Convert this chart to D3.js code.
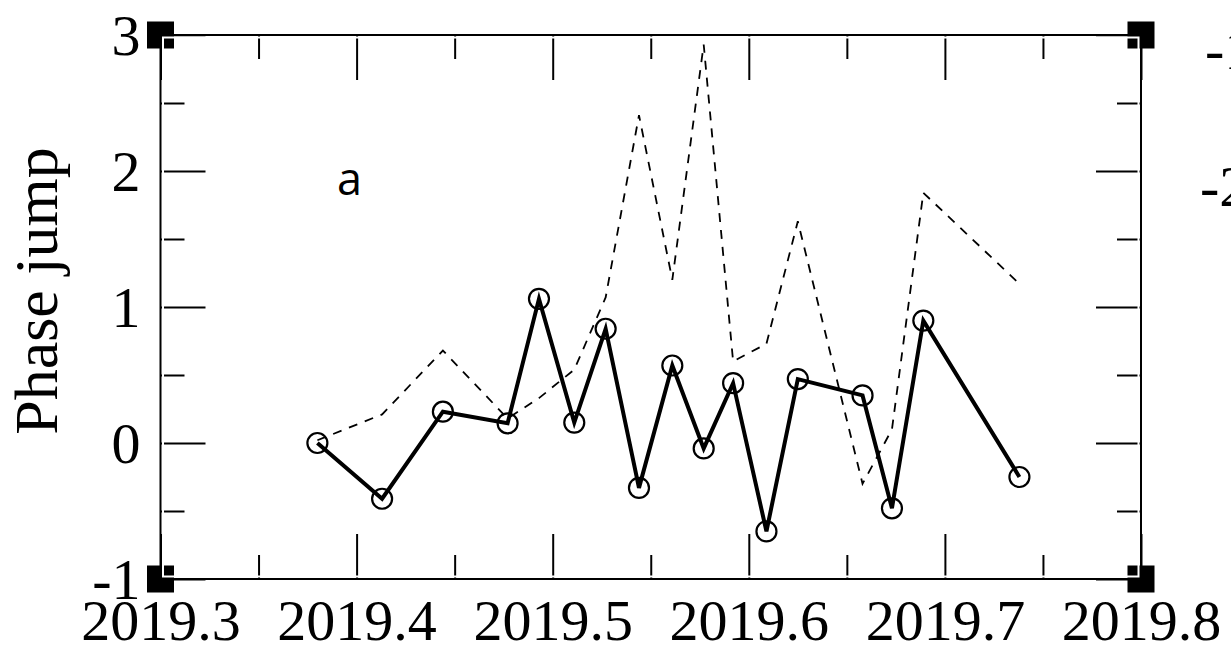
<!DOCTYPE html>
<html>
<head>
<meta charset="utf-8">
<script src="https://cdn.jsdelivr.net/npm/d3@7"></script>
<style>
  body { margin: 0; background: #fff; }
  svg { display: block; }
</style>
</head>
<body>
<div id="chart"></div>
<script>
// epochs (decimal year)
const years = [2019.380, 2019.413, 2019.444, 2019.477, 2019.493, 2019.511, 2019.527, 2019.544,
  2019.561, 2019.577, 2019.592, 2019.609, 2019.625, 2019.658, 2019.673, 2019.689, 2019.738]

// phase jump (solid, circles)
const phaseJump = [0.00, -0.41, 0.23, 0.145, 1.06, 0.15, 0.84, -0.33,
  0.57, -0.04, 0.44, -0.65, 0.47, 0.35, -0.48, 0.90, -0.25]

// second series (dashed)
const dashedSeries = [0.02, 0.21, 0.68, 0.18, 0.33, 0.54, 1.07, 2.41,
  1.20, 2.93, 0.60, 0.73, 1.63, -0.30, 0.10, 1.84, 1.17]

const xMajor = [2019.3, 2019.4, 2019.5, 2019.6, 2019.7, 2019.8]
const xMinor = [2019.35, 2019.45, 2019.55, 2019.65, 2019.75]
const yMajor = [-1, 0, 1, 2, 3]
const yMinor = [-0.5, 0.5, 1.5, 2.5]

const W = 1231, H = 648
const margin = {top:35, left:160.5}
const width = 980.5
const height = 544

const root = d3.select("#chart")
  .append("svg")
  .attr("width", W)
  .attr("height", H)

const svg = root.append("g")
  .attr("transform", `translate(${margin.left},${margin.top})`)

const x = d3.scaleLinear().domain([2019.3, 2019.8]).range([0, width])
const y = d3.scaleLinear().domain([-1, 3]).range([height, 0])

const serif = "'Liberation Serif', 'Times New Roman', serif"

// plain hyphen for negatives, like the original
const intFmt = d => String(d)

// axes, ticks pointing inward
function styleAxis(g){
  g.select(".domain").remove()
  g.selectAll(".tick line").attr("stroke", "#000").attr("stroke-width", 2)
}

svg.append("g")
  .attr("transform", `translate(0,${height})`)
  .call(d3.axisBottom(x).tickValues(xMajor).tickSize(-45).tickSizeOuter(0).tickFormat(d3.format(".1f")))
  .call(styleAxis)
  .call(g => g.selectAll(".tick text")
    .attr("y", 61).attr("dy", 0)
    .style("font-family", serif).style("font-size", "58px").attr("fill", "#000"))

svg.append("g")
  .attr("transform", `translate(0,${height})`)
  .call(d3.axisBottom(x).tickValues(xMinor).tickSize(-24).tickFormat(""))
  .call(styleAxis)

svg.append("g")
  .call(d3.axisTop(x).tickValues(xMajor).tickSize(-45).tickFormat(""))
  .call(styleAxis)

svg.append("g")
  .call(d3.axisTop(x).tickValues(xMinor).tickSize(-24).tickFormat(""))
  .call(styleAxis)

svg.append("g")
  .call(d3.axisLeft(y).tickValues(yMajor).tickSize(-45).tickFormat(intFmt))
  .call(styleAxis)
  .call(g => g.selectAll(".tick text")
    .attr("x", -20).attr("dy", 19)
    .style("font-family", serif).style("font-size", "58px").attr("fill", "#000"))

svg.append("g")
  .call(d3.axisLeft(y).tickValues(yMinor).tickSize(-24).tickFormat(""))
  .call(styleAxis)

svg.append("g")
  .attr("transform", `translate(${width},0)`)
  .call(d3.axisRight(y).tickValues(yMajor).tickSize(-45).tickFormat(""))
  .call(styleAxis)

svg.append("g")
  .attr("transform", `translate(${width},0)`)
  .call(d3.axisRight(y).tickValues(yMinor).tickSize(-24).tickFormat(""))
  .call(styleAxis)

// corner squares
const corners = [[0,0],[width,0],[0,height],[width,height]]
svg.selectAll(".corner")
  .data(corners)
  .join("rect")
  .attr("class", "corner")
  .attr("x", d => d[0]-13.5)
  .attr("y", d => d[1]-13.5)
  .attr("width", 27)
  .attr("height", 27)
  .attr("fill", "#000")

// frame with a thin white edge on the inside
svg.append("rect")
  .attr("x", 2.5).attr("y", 2.5)
  .attr("width", width-5).attr("height", height-5)
  .attr("fill", "none")
  .attr("stroke", "#fff")
  .attr("stroke-width", 2)

svg.append("rect")
  .attr("width", width).attr("height", height)
  .attr("fill", "none")
  .attr("stroke", "#000")
  .attr("stroke-width", 2)

// lines
const rows = years.map((t,i) => ({t:t, a:phaseJump[i], b:dashedSeries[i]}))

svg.append("path")
  .datum(rows)
  .attr("fill", "none")
  .attr("stroke", "#000")
  .attr("stroke-width", 1.8)
  .attr("stroke-dasharray", "9,8")
  .attr("d", d3.line().x(d => x(d.t)).y(d => y(d.b)))

svg.append("path")
  .datum(rows)
  .attr("fill", "none")
  .attr("stroke", "#000")
  .attr("stroke-width", 4)
  .attr("stroke-linejoin", "miter")
  .attr("d", d3.line().x(d => x(d.t)).y(d => y(d.a)))

svg.selectAll(".pt")
  .data(rows)
  .join("circle")
  .attr("class", "pt")
  .attr("cx", d => x(d.t))
  .attr("cy", d => y(d.a))
  .attr("r", 10)
  .attr("fill", "none")
  .attr("stroke", "#000")
  .attr("stroke-width", 2.2)

// y axis title
root.append("text")
  .attr("transform", "translate(57,291) rotate(-90)")
  .attr("text-anchor", "middle")
  .style("font-family", serif)
  .style("font-size", "62px")
  .text("Phase jump")

// panel letter
root.append("text")
  .attr("x", 337)
  .attr("y", 195)
  .style("font-family", "'Open Sans', 'Noto Sans', sans-serif")
  .style("font-size", "45px")
  .text("a")

// labels of the neighbouring panel, cut by the edge
root.append("text")
  .attr("x", 1205).attr("y", 69)
  .style("font-family", serif).style("font-size", "58px")
  .text("-1")

root.append("text")
  .attr("x", 1200).attr("y", 206)
  .style("font-family", serif).style("font-size", "58px")
  .text("-2")
</script>
</body>
</html>
